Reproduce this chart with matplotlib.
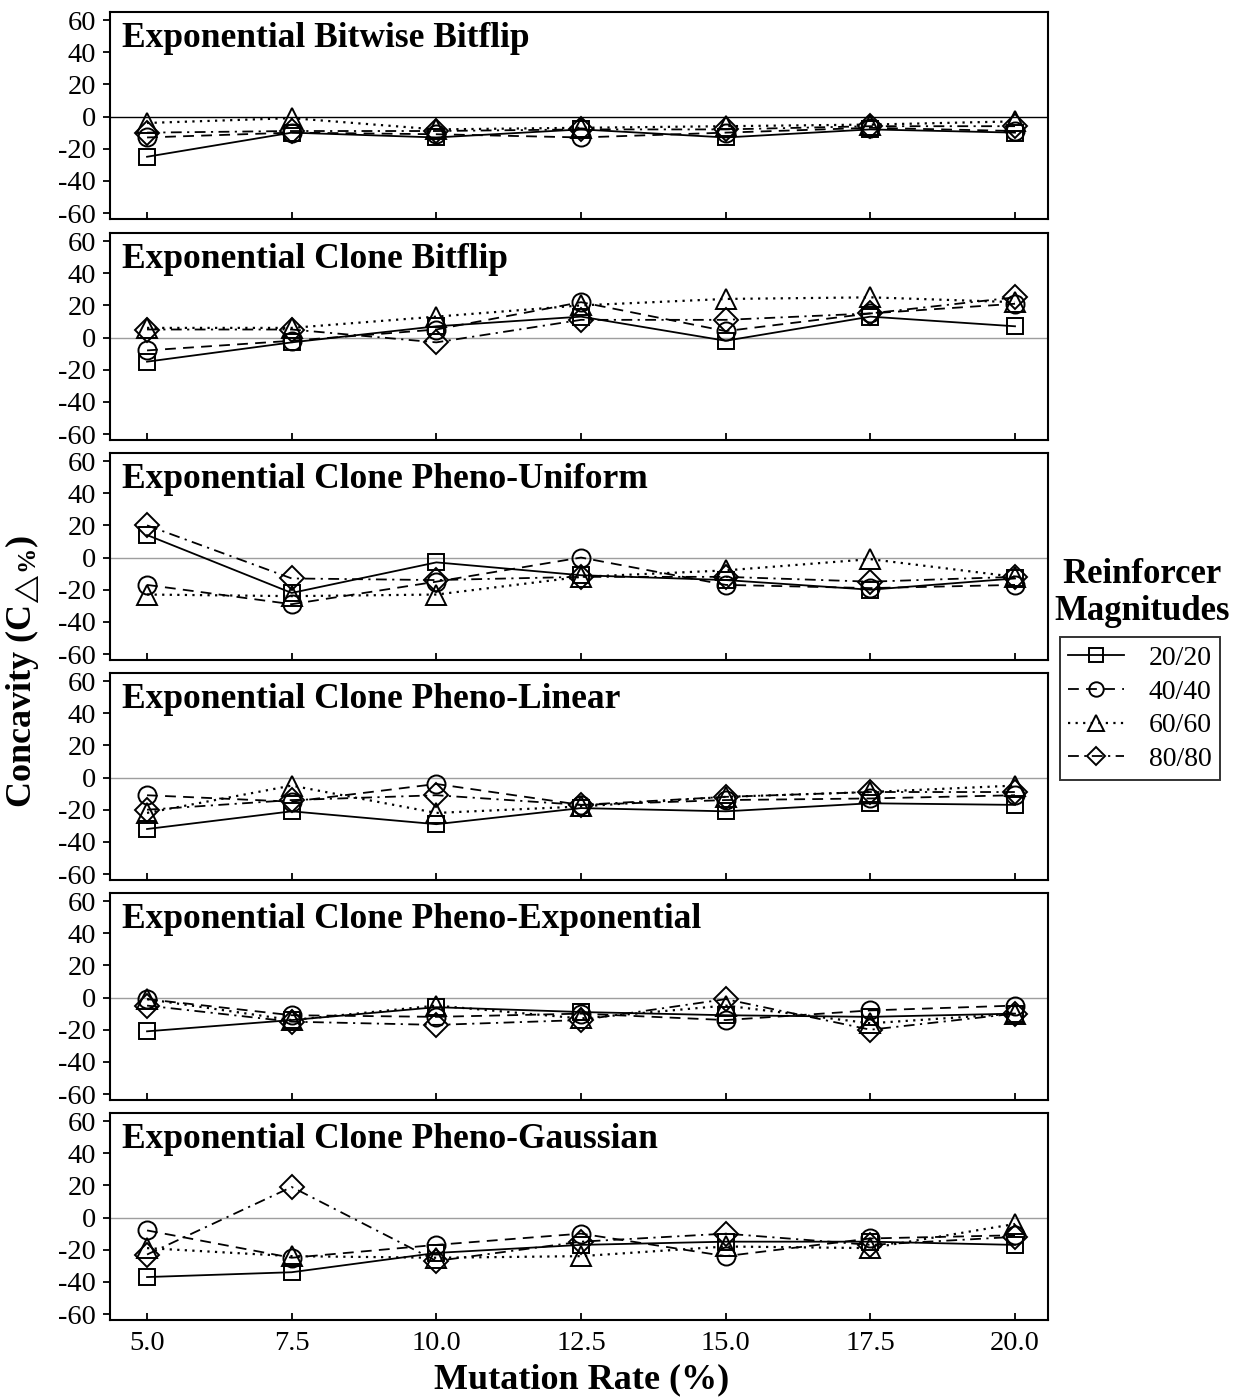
import matplotlib
matplotlib.use("Agg")
import matplotlib.pyplot as plt
from matplotlib.lines import Line2D

plt.rcParams["font.family"] = ["Liberation Serif", "DejaVu Serif"]
plt.rcParams["mathtext.fontset"] = "custom"
plt.rcParams["mathtext.rm"] = "Liberation Serif:bold"
plt.rcParams["mathtext.it"] = "Liberation Serif:bold"
plt.rcParams["mathtext.bf"] = "Liberation Serif:bold"

# Mutation rates (%)
rates = [5.0, 7.5, 10.0, 12.5, 15.0, 17.5, 20.0]
rate_labels = ["5.0", "7.5", "10.0", "12.5", "15.0", "17.5", "20.0"]

magnitudes = ["20/20", "40/40", "60/60", "80/80"]

titles = [
    "Exponential Bitwise Bitflip",
    "Exponential Clone Bitflip",
    "Exponential Clone Pheno-Uniform",
    "Exponential Clone Pheno-Linear",
    "Exponential Clone Pheno-Exponential",
    "Exponential Clone Pheno-Gaussian",
]

# Concavity per mutation rate, one list per reinforcer magnitude
bitwise_bitflip_20 = [-25, -10, -13, -8, -13, -8, -10]
bitwise_bitflip_40 = [-13, -10, -11, -13, -10, -7, -9]
bitwise_bitflip_60 = [-4, -1, -8, -7, -6, -5, -3]
bitwise_bitflip_80 = [-10, -9, -9, -8, -8, -6, -6]

clone_bitflip_20 = [-15, -3, 7, 13, -2, 13, 7]
clone_bitflip_40 = [-8, -2, 5, 22, 4, 15, 21]
clone_bitflip_60 = [6, 6, 13, 20, 24, 25, 22]
clone_bitflip_80 = [5, 5, -3, 11, 11, 15, 25]

pheno_uniform_20 = [14, -22, -3, -11, -14, -20, -13]
pheno_uniform_40 = [-17, -29, -15, 0, -17, -19, -17]
pheno_uniform_60 = [-23, -24, -23, -12, -8, -1, -12]
pheno_uniform_80 = [20, -13, -14, -12, -12, -15, -12]

pheno_linear_20 = [-32, -21, -29, -19, -21, -16, -17]
pheno_linear_40 = [-11, -15, -4, -17, -14, -13, -11]
pheno_linear_60 = [-22, -5, -22, -18, -12, -9, -5]
pheno_linear_80 = [-20, -14, -11, -17, -12, -9, -9]

pheno_exponential_20 = [-21, -14, -6, -9, -11, -12, -10]
pheno_exponential_40 = [-1, -11, -12, -10, -14, -8, -5]
pheno_exponential_60 = [-1, -14, -5, -13, -5, -16, -10]
pheno_exponential_80 = [-5, -15, -17, -14, -1, -20, -10]

pheno_gaussian_20 = [-37, -34, -22, -17, -15, -15, -17]
pheno_gaussian_40 = [-8, -25, -17, -10, -24, -13, -11]
pheno_gaussian_60 = [-19, -24, -25, -24, -18, -19, -4]
pheno_gaussian_80 = [-23, 19, -27, -15, -10, -17, -12]

panels = [
    [bitwise_bitflip_20, bitwise_bitflip_40, bitwise_bitflip_60, bitwise_bitflip_80],
    [clone_bitflip_20, clone_bitflip_40, clone_bitflip_60, clone_bitflip_80],
    [pheno_uniform_20, pheno_uniform_40, pheno_uniform_60, pheno_uniform_80],
    [pheno_linear_20, pheno_linear_40, pheno_linear_60, pheno_linear_80],
    [pheno_exponential_20, pheno_exponential_40, pheno_exponential_60, pheno_exponential_80],
    [pheno_gaussian_20, pheno_gaussian_40, pheno_gaussian_60, pheno_gaussian_80],
]

yticks = [60, 40, 20, 0, -20, -40, -60]

styles = [
    dict(linestyle="-", lw=1.3, marker="s", markersize=12),
    dict(linestyle=(0, (6, 4)), lw=1.3, marker="o", markersize=13),
    dict(linestyle=(0, (1, 2.4)), lw=1.6, marker="^", markersize=15),
    dict(linestyle=(0, (6, 3, 1.2, 3)), lw=1.3, marker="D", markersize=12),
]

W, H = 1233, 1399
fig = plt.figure(figsize=(W / 100, H / 100), dpi=100)

left_px, right_px = 110, 1048
tops = [12, 233, 453, 673, 893, 1113]
panel_h = 207

for i, (title, series) in enumerate(zip(titles, panels)):
    top = tops[i]
    ax = fig.add_axes([left_px / W, 1 - (top + panel_h) / H,
                       (right_px - left_px) / W, panel_h / H])
    zero_color = "black" if i == 0 else "0.62"
    ax.axhline(0, color=zero_color, lw=1.0, zorder=1)
    for vals, st in zip(series, styles):
        ax.plot(rates, vals, color="black", fillstyle="none",
                markeredgewidth=1.4, zorder=3, **st)
    ax.set_xlim(4.36, 20.57)
    ax.set_ylim(-63.7, 65)
    ax.set_yticks(yticks)
    ax.set_yticklabels([str(t) for t in yticks])
    ax.set_xticks(rates)
    if i == len(titles) - 1:
        ax.set_xticklabels(rate_labels)
    else:
        ax.set_xticklabels([])
    ax.tick_params(axis="y", direction="out", length=5, width=1.3,
                   labelsize=20.5, pad=5)
    ax.tick_params(axis="x", direction="in", length=5, width=1.3,
                   labelsize=20.5, pad=8)
    for sp in ax.spines.values():
        sp.set_linewidth(1.5)
    ax.text(12 / (right_px - left_px), 1 - 35 / panel_h, title,
            transform=ax.transAxes, ha="left", va="baseline",
            fontsize=25.5, fontweight="bold")

fig.text(582 / W, 1 - 1380 / H, "Mutation Rate (%)", ha="center", va="center",
         fontsize=26, fontweight="bold")
fig.text(22 / W, 1 - 672 / H, r"Concavity (C$_{\!\triangle\!\%}$)", ha="center",
         va="center", rotation=90, fontsize=26, fontweight="bold")

fig.text(1142 / W, 1 - 593 / H, "Reinforcer\nMagnitudes", ha="center",
         va="center", fontsize=25, fontweight="bold", linespacing=1.15)

handles = [Line2D([], [], color="black", fillstyle="none",
                  markeredgewidth=1.4,
                  **{**st, "markersize": st["markersize"] * 0.8})
           for st in styles]
leg = fig.legend(handles, magnitudes, loc="upper left",
                 bbox_to_anchor=(1060 / W, 1 - 637 / H), frameon=True,
                 fancybox=False, edgecolor="black", fontsize=20,
                 handlelength=2.0, handletextpad=0.9, labelspacing=0.3,
                 borderpad=0.3, borderaxespad=0)
leg.get_frame().set_linewidth(1.4)

fig.savefig("out.png", dpi=100)
